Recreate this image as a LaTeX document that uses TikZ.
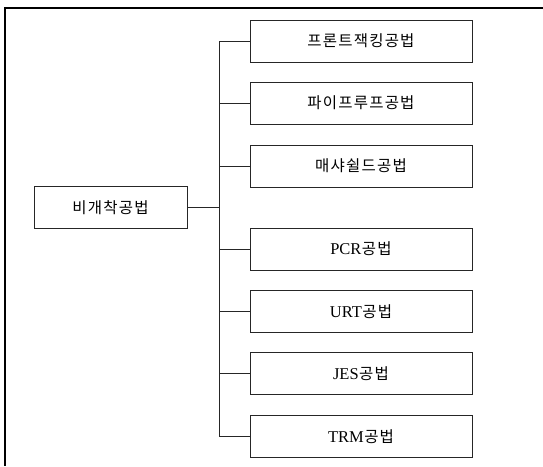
\documentclass[tikz,border=0pt]{standalone}
\usepackage{fontspec}
\setmainfont{Liberation Serif}
\newfontfamily\krfont{Noto Sans CJK KR}
\newlength\kgap \setlength\kgap{1.2pt}
\def\ksaux#1#2{#1\ifx#2\relax\else\kern\kgap\expandafter\ksaux\expandafter#2\fi}
\newcommand\kr[1]{{\krfont\fontsize{15.5}{18}\selectfont\ksaux#1\relax}}
\begin{document}
\begin{tikzpicture}[x=1pt,y=-1pt,
  box/.style={draw=black!85, line width=0.9pt, minimum width=222pt, minimum height=42pt, inner sep=0pt,
    font=\fontsize{16.5}{18}\selectfont},
  rootbox/.style={box, minimum width=153pt, minimum height=42pt},
  link/.style={draw=black!85, line width=0.9pt},
  frame/.style={draw=black, line width=1.8pt}]
\useasboundingbox (0,0) rectangle (543,466);
\coordinate (ftl) at (5,8);
\coordinate (ftr) at (543,8);
\coordinate (fbl) at (5,466);
\draw[frame] (ftr) -- (ftl) -- (fbl);
\node[rootbox] (root) at (110.5,207.5) {\kr{비개착공법}};
\node[box] (c1) at (361,41) {\kr{프론트잭킹공법}};
\node[box] (c2) at (361,103) {\kr{파이프루프공법}};
\node[box] (c3) at (361,166) {\kr{매샤쉴드공법}};
\node[box] (c4) at (361,249) {PCR\kern0.5pt\kr{공법}};
\node[box] (c5) at (361,311.5) {URT\kern0.5pt\kr{공법}};
\node[box] (c6) at (361,373.5) {JES\kern0.5pt\kr{공법}};
\node[box] (c7) at (361,436.5) {TRM\kern0.5pt\kr{공법}};
\coordinate (j) at (219,207.5);
\draw[link] (root.east) -- (j);
\foreach \c in {c1,c2,c3,c4,c5,c6,c7} {
  \draw[link] (j) |- (\c.west);
}
\end{tikzpicture}
\end{document}
